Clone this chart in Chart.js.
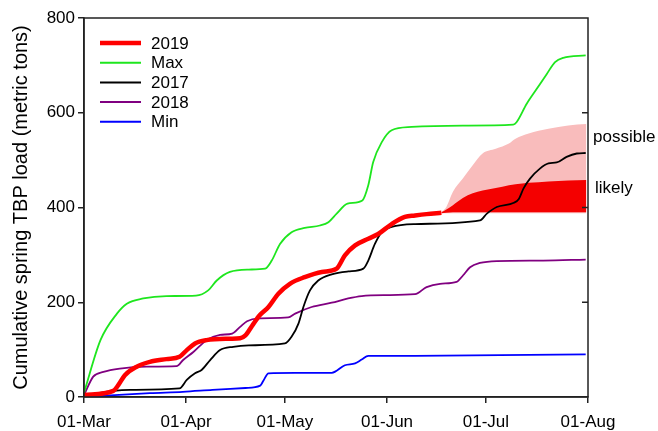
<!DOCTYPE html>
<html>
<head>
<meta charset="utf-8">
<script src="https://cdn.jsdelivr.net/npm/chart.js@4/dist/chart.umd.min.js"></script>
<style>
  html, body { margin: 0; padding: 0; background: #fff; }
  #wrap { width: 658px; height: 431px; position: relative; }
</style>
</head>
<body>
<div id="wrap"><canvas id="loadChart"></canvas></div>
<script>
// -- Axis ticks (x = days since 01-Mar) --
const tickDays = [0, 31, 61, 92, 122, 153];
const tickLabels = ['01-Mar', '01-Apr', '01-May', '01-Jun', '01-Jul', '01-Aug'];

// -- Series --
const maxDays = [0, 5, 10, 13, 18, 25, 34, 37.7, 40.3, 44.3, 50, 55, 57, 59.5, 63, 67, 71.6, 74.2, 76.7, 80, 84.5, 86.3, 87.8, 90.4, 93.4, 99.5, 115, 130.3, 131.3, 134.4, 137.4, 140.5, 143, 145.5, 152.3];
const maxVals = [9, 120, 176, 197, 208, 213, 214, 225, 246, 264, 269, 271, 288, 323, 348, 357, 362, 369, 387, 408, 415, 447, 496, 538, 563, 570, 573, 575, 580, 619, 650, 682, 707, 716, 721];

const y2019Days = [0, 8.9, 10.4, 12.4, 16, 20, 25, 29, 31.2, 33.7, 37.2, 44.3, 47.4, 49, 51, 53.4, 56, 59, 62.5, 67, 72.2, 76.7, 79.2, 82.3, 86.3, 89.3, 93.4, 97.4, 100.5, 104, 108.5];
const y2019Vals = [4, 13, 25, 46, 64, 74, 80, 85, 99, 113, 120, 123, 124, 130, 150, 173, 190, 218, 239, 253, 264, 271, 299, 320, 334, 344, 365, 380, 383, 386, 389];

const y2017Days = [0, 9, 14, 29, 31.2, 33.7, 35.7, 38.3, 41.3, 45.3, 50, 61, 63, 65.1, 66.6, 68.6, 71.1, 75.2, 80.2, 84.8, 86.3, 88.3, 90.4, 93.4, 100.5, 120.2, 122.3, 125.3, 130.5, 132, 133.4, 135.4, 138.4, 141, 143.5, 146.5, 149.6, 152.3];
const y2017Vals = [3, 13, 15, 18, 36, 50, 57, 78, 99, 106, 109, 113, 127, 155, 190, 225, 246, 259, 265, 271, 288, 323, 348, 359, 365, 373, 387, 401, 410, 418, 440, 461, 482, 493, 495, 507, 514, 515];

const y2018Days = [0, 2.8, 5.9, 10.9, 19, 28.1, 30.1, 33.2, 37.2, 41.3, 45, 47.4, 49.5, 52.9, 62, 64.1, 69.1, 75.2, 80.2, 84.3, 91.4, 100.5, 104, 108.1, 113.1, 115.1, 117.2, 120.2, 125.3, 139.4, 152.3];
const y2018Vals = [4, 43, 53, 60, 64, 65, 78, 95, 120, 131, 134, 148, 160, 166, 168, 176, 190, 199, 208, 213, 215, 217, 232, 239, 243, 257, 274, 283, 287, 288, 290];

const minDays = [0, 20, 30, 39, 49, 53.5, 54.5, 56, 64, 75.2, 79.2, 82.3, 84.3, 86.3, 100.5, 152.3];
const minVals = [0, 8, 11, 15, 19, 24, 35, 50, 51, 51, 67, 71, 79, 87, 87, 90];

// -- Projection bands for 2019 --
const bandDays = [108.5, 110, 112, 115, 118, 121, 125, 129, 131, 135, 141, 147, 152.5];
const possibleTop = [390, 401, 433, 461, 489, 514, 524, 535, 545, 556, 566, 573, 576];
const possibleBottom = [388, 388, 388, 388, 388, 388, 388, 388, 388, 388, 388, 388, 388];
const likelyTop = [390, 396, 405, 420, 430, 436, 441, 447, 449, 452, 455, 457, 458];
const likelyBottom = [388, 389, 390, 390, 390, 390, 390, 390, 390, 390, 390, 390, 390];

const fontFamily = "'Liberation Sans', Arial, sans-serif";

function pts(days, vals) {
    return days.map((d, i) => ({ x: d, y: vals[i] }));
}

function lineSet(label, days, vals, color, width, order) {
    return {
        label: label,
        data: pts(days, vals),
        borderColor: color,
        borderWidth: width,
        pointRadius: 0,
        fill: false,
        cubicInterpolationMode: 'monotone',
        order: order
    };
}

function bandSet(vals, fillTarget, color, order) {
    return {
        label: '',
        data: pts(bandDays, vals),
        borderWidth: 0,
        borderColor: 'rgba(0,0,0,0)',
        backgroundColor: color,
        pointRadius: 0,
        fill: fillTarget,
        cubicInterpolationMode: 'monotone',
        order: order
    };
}

const legendItems = [
    { text: '2019', color: '#ff0000', width: 4.5 },
    { text: 'Max', color: '#1ee61e', width: 2 },
    { text: '2017', color: '#000000', width: 2 },
    { text: '2018', color: '#800080', width: 2 },
    { text: 'Min', color: '#0000ff', width: 2 }
];

// -- Frame, right ticks, legend and band labels --
const decorPlugin = {
    id: 'decor',
    afterDraw(chart) {
        const ctx = chart.ctx;
        const area = chart.chartArea;
        const yScale = chart.scales.y;
        ctx.save();
        ctx.strokeStyle = '#222';
        ctx.lineWidth = 1.5;
        ctx.strokeRect(area.left, area.top, area.right - area.left, area.bottom - area.top);

        // inward ticks on the right edge
        [200, 400, 600].forEach(v => {
            const y = yScale.getPixelForValue(v);
            ctx.beginPath();
            ctx.moveTo(area.right, y);
            ctx.lineTo(area.right - 6, y);
            ctx.stroke();
        });

        // legend
        ctx.font = '17px ' + fontFamily;
        ctx.textBaseline = 'middle';
        ctx.textAlign = 'left';
        legendItems.forEach((item, i) => {
            const y = 43 + i * 19.7;
            ctx.strokeStyle = item.color;
            ctx.lineWidth = item.width;
            ctx.beginPath();
            ctx.moveTo(100, y);
            ctx.lineTo(141, y);
            ctx.stroke();
            ctx.fillStyle = '#000';
            ctx.fillText(item.text, 151, y + 1);
        });

        // band labels
        ctx.fillText('possible', 593, 137);
        ctx.fillText('likely', 595, 188);
        ctx.restore();
    }
};

const ctx = document.getElementById('loadChart').getContext('2d');
new Chart(ctx, {
    type: 'line',
    data: {
        datasets: [
            bandSet(possibleBottom, false, 'rgba(0,0,0,0)', 10),
            bandSet(possibleTop, 0, '#f9bcbc', 9),
            bandSet(likelyBottom, false, 'rgba(0,0,0,0)', 8),
            bandSet(likelyTop, 2, '#f40000', 7),
            lineSet('Min', minDays, minVals, '#0000ff', 1.8, 6),
            lineSet('2018', y2018Days, y2018Vals, '#800080', 1.8, 5),
            lineSet('Max', maxDays, maxVals, '#1ee61e', 1.8, 4),
            lineSet('2017', y2017Days, y2017Vals, '#000000', 1.8, 3),
            lineSet('2019', y2019Days, y2019Vals, '#ff0000', 4.5, 2)
        ]
    },
    options: {
        responsive: true,
        maintainAspectRatio: false,
        animation: false,
        layout: { padding: { top: 18, right: 70, left: 0, bottom: 0 } },
        plugins: {
            legend: { display: false },
            tooltip: { enabled: false }
        },
        scales: {
            x: {
                type: 'linear',
                min: 0,
                max: 153,
                afterBuildTicks: axis => { axis.ticks = tickDays.map(v => ({ value: v })); },
                afterFit: scale => { scale.height = 34; },
                ticks: {
                    callback: v => tickLabels[tickDays.indexOf(v)],
                    font: { family: fontFamily, size: 17 },
                    color: '#000',
                    padding: 9,
                    maxRotation: 0,
                    autoSkip: false
                },
                grid: { drawOnChartArea: false, tickLength: 6, color: '#222', lineWidth: 1.5 },
                border: { display: true, color: '#222', width: 1.5 }
            },
            y: {
                min: 0,
                max: 800,
                afterFit: scale => { scale.width = 84; },
                ticks: {
                    stepSize: 200,
                    font: { family: fontFamily, size: 17 },
                    color: '#000',
                    padding: 3
                },
                grid: { drawOnChartArea: false, tickLength: 6, color: '#222', lineWidth: 1.5 },
                border: { display: true, color: '#222', width: 1.5 },
                title: {
                    display: true,
                    text: 'Cumulative spring TBP load (metric tons)',
                    font: { family: fontFamily, size: 20 },
                    color: '#000',
                    padding: { top: 9, bottom: 0 }
                }
            }
        }
    },
    plugins: [decorPlugin]
});
</script>
</body>
</html>
